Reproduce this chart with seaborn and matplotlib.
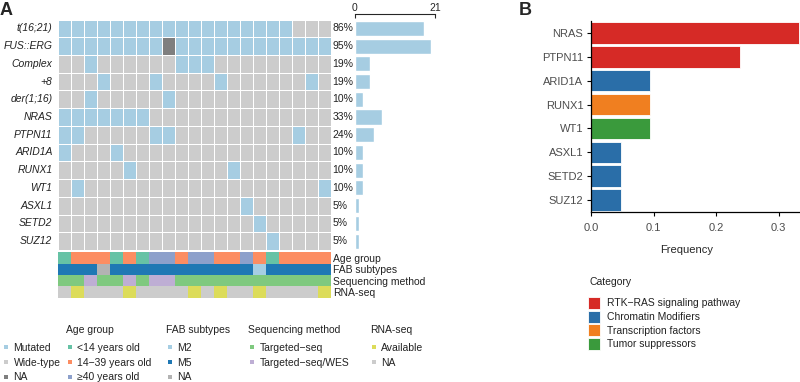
import numpy as np
import pandas as pd
import matplotlib
matplotlib.use('Agg')
import matplotlib.pyplot as plt
from matplotlib.colors import ListedColormap
from matplotlib.lines import Line2D
import seaborn as sns

sns.set_style('white')
plt.rcParams['font.family'] = ['Liberation Sans', 'DejaVu Sans']
plt.rcParams['font.size'] = 7.5

# ---------------- data ----------------
n_samples = 21
alterations = ['t(16;21)', 'FUS::ERG', 'Complex', '+8', 'der(1;16)', 'NRAS', 'PTPN11',
               'ARID1A', 'RUNX1', 'WT1', 'ASXL1', 'SETD2', 'SUZ12']
# one letter per sample (groups of 7): M = mutated, W = wide-type, N = NA
alteration_status = [
    'MMMMMMM MMMMMMM MMMMWWW',  # t(16;21)
    'MMMMMMM MNMMMMM MMMMMMM',  # FUS::ERG
    'WWMWWWW WWMMMWW WWWWWWW',  # Complex
    'WWWMWWW MWWWWMW WWWWWMW',  # +8
    'WWMWWWW WMWWWWW WWWWWWW',  # der(1;16)
    'MMMMMMM WWWWWWW WWWWWWW',  # NRAS
    'MMWWWWW MMWWWWW WWWWMWW',  # PTPN11
    'MWWWMWW WWWWWWW WWWWWWW',  # ARID1A
    'WWWWWMW WWWWWWM WWWWWWW',  # RUNX1
    'WMWWWWW WWWWWWW WWWWWWM',  # WT1
    'WWWWWWW WWWWWWW MWWWWWW',  # ASXL1
    'WWWWWWW WWWWWWW WMWWWWW',  # SETD2
    'WWWWWWW WWWWWWW WWMWWWW',  # SUZ12
]
# clinical tracks
age_group = 'CYYYCYC AAYAAYY AYCYYYY'      # C <14, Y 14-39, A >=40
fab_subtype = '555N555 5555555 5255555'    # 2 M2, 5 M5, N NA
seq_method = 'TTWTTWT WWTTTTT TTTTTTT'     # T targeted-seq, W targeted-seq/WES
rna_seq = 'NYNNNYN NNNYNYN NYNNNNY'        # Y available, N NA
track_names = ['Age group', 'FAB subtypes', 'Sequencing method', 'RNA-seq']

# panel B
freq_genes = ['NRAS', 'PTPN11', 'ARID1A', 'RUNX1', 'WT1', 'ASXL1', 'SETD2', 'SUZ12']
freq_values = [0.333, 0.238, 0.095, 0.095, 0.095, 0.048, 0.048, 0.048]
freq_category = ['RTK\u2212RAS signaling pathway', 'RTK\u2212RAS signaling pathway',
                 'Chromatin Modifiers', 'Transcription factors', 'Tumor suppressors',
                 'Chromatin Modifiers', 'Chromatin Modifiers', 'Chromatin Modifiers']
category_order = ['RTK\u2212RAS signaling pathway', 'Chromatin Modifiers',
                  'Transcription factors', 'Tumor suppressors']
category_colors = ['#d62a26', '#2a6ea8', '#f07f20', '#3a9a3c']

# ---------------- colours ----------------
c_mut, c_wt, c_na = '#a6cde2', '#cccccc', '#7f7f7f'
status_code = {'W': 0, 'M': 1, 'N': 2}
track_colors = {
    'C': '#66c2a5', 'Y': '#fc8d62', 'A': '#8da0cb',     # age
    '2': '#a6cee3', '5': '#1f78b4', 'N_fab': '#b3b3b3',  # FAB
    'T': '#7fc97f', 'W': '#beaed4',                     # sequencing
    'Y_rna': '#dcdc5a', 'N_rna': '#cccccc',             # RNA-seq
}

W, H = 800, 382
fig = plt.figure(figsize=(W / 100, H / 100), dpi=100)


def px_axes(left, top, right, bottom):
    return fig.add_axes([left / W, 1 - bottom / H, (right - left) / W, (bottom - top) / H])


# ---------------- oncoprint grid ----------------
mat = pd.DataFrame([[status_code[s] for s in row.replace(' ', '')] for row in alteration_status],
                   index=alterations)
ax = px_axes(58, 19.5, 331, 250)
sns.heatmap(mat, ax=ax, cmap=ListedColormap([c_wt, c_mut, c_na]), vmin=-0.5, vmax=2.5,
            cbar=False, linewidths=0.5, linecolor='white', xticklabels=False,
            yticklabels=alterations)
ax.tick_params(axis='y', length=0, pad=4)
for lab in ax.get_yticklabels():
    lab.set_rotation(0)
    lab.set_fontstyle('italic')
    lab.set_color('#222222')

counts = (mat == 1).sum(axis=1)
for i, c in enumerate(counts):
    ax.text(1.006, i + 0.5, f'{round(100 * c / n_samples)}%', transform=ax.get_yaxis_transform(),
            va='center', ha='left', fontsize=7.5, color='#222222')

# count bars on the right
axb = px_axes(355, 19.5, 435, 250)
sns.barplot(x=counts.values, y=alterations, orient='h', color=c_mut, width=0.85,
            saturation=1, ax=axb)
axb.set_xlim(0, n_samples)
axb.set_ylim(len(alterations) - 0.5, -0.5)
axb.xaxis.tick_top()
axb.set_xticks([0, n_samples])
axb.set_yticks([])
axb.set_xlabel('')
axb.set_ylabel('')
for s in ['left', 'right', 'bottom']:
    axb.spines[s].set_visible(False)
axb.spines['top'].set_position(('outward', 4))
axb.spines['top'].set_linewidth(0.8)
axb.tick_params(axis='x', direction='in', length=3, width=0.8, pad=1, labelsize=7.5)

# ---------------- clinical tracks ----------------
track_palette = list(track_colors.values())
track_keys = list(track_colors.keys())
rows = [
    [track_keys.index(v) for v in age_group.replace(' ', '')],
    [track_keys.index('N_fab' if v == 'N' else v) for v in fab_subtype.replace(' ', '')],
    [track_keys.index(v) for v in seq_method.replace(' ', '')],
    [track_keys.index(v + '_rna') for v in rna_seq.replace(' ', '')],
]
tracks = pd.DataFrame(rows, index=track_names)
axt = px_axes(58, 252.5, 331, 297.5)
sns.heatmap(tracks, ax=axt, cmap=ListedColormap(track_palette), vmin=-0.5,
            vmax=len(track_palette) - 0.5, cbar=False, linewidths=0, xticklabels=False,
            yticklabels=track_names)
axt.yaxis.tick_right()
axt.tick_params(axis='y', length=0, pad=1.5, labelsize=7.5)
for lab in axt.get_yticklabels():
    lab.set_rotation(0)
    lab.set_color('#222222')

fig.text(0 / W, 1 - 2 / H, 'A', fontsize=13, fontweight='bold', va='top', ha='left')
fig.text(519 / W, 1 - 2 / H, 'B', fontsize=13, fontweight='bold', va='top', ha='left')


# ---------------- legends of panel A ----------------
def sq(color, size=3.2, edge=None):
    return Line2D([], [], marker='s', color=color, linestyle='', markersize=size,
                  markeredgecolor=edge if edge else color, markeredgewidth=0.6 if edge else 0)


legend_kw = dict(loc='upper left', frameon=False, fontsize=7.5, title_fontsize=7.5,
                 borderpad=0, borderaxespad=0, handletextpad=0.3, handlelength=0.8,
                 labelspacing=0.45, alignment='left')
groups = [
    (None, 2, [c_mut, c_wt, c_na], ['Mutated', 'Wide-type', 'NA']),
    ('Age group', 66, [track_colors['C'], track_colors['Y'], track_colors['A']],
     ['<14 years old', '14\u221239 years old', '\u226540 years old']),
    ('FAB subtypes', 166, [track_colors['2'], track_colors['5'], track_colors['N_fab']],
     ['M2', 'M5', 'NA']),
    ('Sequencing method', 248, [track_colors['T'], track_colors['W']],
     ['Targeted\u2212seq', 'Targeted\u2212seq/WES']),
    ('RNA-seq', 370, [track_colors['Y_rna'], track_colors['N_rna']], ['Available', 'NA']),
]
for title, x, cols, labs in groups:
    if title is not None:
        fig.text(x / W, 1 - 330 / H, title, fontsize=7.5, color='#222222',
                 va='center', ha='left')
    lg = fig.legend([sq(c) for c in cols], labs, bbox_to_anchor=(x / W, 1 - 343 / H),
                    **legend_kw)
    for t in lg.get_texts():
        t.set_color('#222222')

# ---------------- panel B ----------------
dfb = pd.DataFrame({'gene': freq_genes, 'freq': freq_values, 'category': freq_category})
axB = px_axes(591, 21, 800, 212)
sns.barplot(data=dfb, x='freq', y='gene', hue='category', hue_order=category_order,
            palette=category_colors, dodge=False, width=0.9, saturation=1,
            edgecolor='white', linewidth=0.6, legend=False, ax=axB)
axB.set_xlim(0, 0.3344)
axB.set_ylim(len(freq_genes) - 0.5, -0.5)
axB.set_xticks([0.0, 0.1, 0.2, 0.3])
axB.set_xticklabels(['0.0', '0.1', '0.2', '0.3'])
axB.set_ylabel('')
axB.set_xlabel('Frequency', fontsize=8)
axB.xaxis.set_label_coords((687 - 591) / 209, -0.175)
sns.despine(ax=axB)
for s in ['left', 'bottom']:
    axB.spines[s].set_color('black')
    axB.spines[s].set_linewidth(0.9)
axB.tick_params(axis='both', length=3, width=0.8, color='black', labelsize=8,
                labelcolor='#4d4d4d', bottom=True, left=True, pad=2.5)
axB.tick_params(axis='x', pad=5)

handles = [sq(c, size=8.6, edge='white') for c in category_colors]
fig.text(589 / W, 1 - 282 / H, 'Category', fontsize=7.5, color='#222222',
         va='center', ha='left')
lgB = fig.legend(handles, category_order, loc='upper left',
                 bbox_to_anchor=(589 / W, 1 - 298.5 / H), frameon=False, fontsize=7.5,
                 borderpad=0, borderaxespad=0, handlelength=0.9,
                 handletextpad=0.8, labelspacing=0.35, alignment='left')
for t in lgB.get_texts():
    t.set_color('#222222')

fig.savefig('out.png', dpi=100)
